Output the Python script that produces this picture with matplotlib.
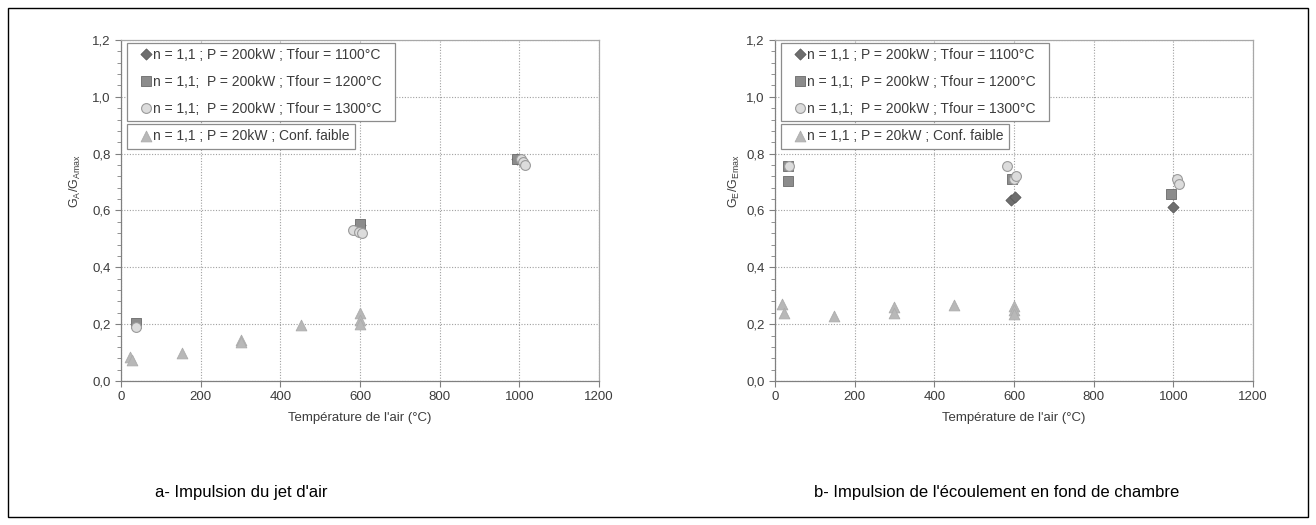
import matplotlib.pyplot as plt
from matplotlib.ticker import MultipleLocator, FuncFormatter
from matplotlib.patches import Rectangle

plt.rcParams['font.family'] = ['Liberation Sans', 'DejaVu Sans']
plt.rcParams['mathtext.default'] = 'regular'

# %%
# data (x = air temperature, y = ratio)
# a- jet d'air
a_1100_x = [600, 995]
a_1100_y = [0.55, 0.78]
a_1200_x = [37, 600, 995]
a_1200_y = [0.205, 0.553, 0.782]
a_1300_x = [39, 582, 598, 604, 1005, 1010, 1015]
a_1300_y = [0.19, 0.533, 0.525, 0.522, 0.782, 0.772, 0.76]
a_20kw_x = [22, 27, 152, 302, 302, 451, 600, 600, 600]
a_20kw_y = [0.084, 0.074, 0.097, 0.146, 0.137, 0.196, 0.238, 0.216, 0.202]

# b- fond de chambre
b_1100_x = [592, 602, 1000]
b_1100_y = [0.636, 0.646, 0.612]
b_1200_x = [32, 32, 596, 994]
b_1200_y = [0.755, 0.704, 0.71, 0.658]
b_1300_x = [34, 582, 600, 605, 1010, 1015]
b_1300_y = [0.755, 0.756, 0.71, 0.722, 0.712, 0.694]
b_20kw_x = [18, 23, 148, 298, 298, 449, 600, 600, 600]
b_20kw_y = [0.272, 0.24, 0.228, 0.26, 0.24, 0.268, 0.265, 0.25, 0.235]

labels = ['n = 1,1 ; P = 200kW ; Tfour = 1100°C  ',
          'n = 1,1;  P = 200kW ; Tfour = 1200°C  ',
          'n = 1,1;  P = 200kW ; Tfour = 1300°C  ',
          'n = 1,1 ; P = 20kW ; Conf. faible']
ylabels = [r'$G_A/G_{Amax}$', r'$G_E/G_{Emax}$']
captions = ["a- Impulsion du jet d'air",
            "b- Impulsion de l'écoulement en fond de chambre"]

panels = [(a_1100_x, a_1100_y, a_1200_x, a_1200_y, a_1300_x, a_1300_y, a_20kw_x, a_20kw_y),
          (b_1100_x, b_1100_y, b_1200_x, b_1200_y, b_1300_x, b_1300_y, b_20kw_x, b_20kw_y)]

# %%
fig = plt.figure(figsize=(13.16, 5.25), dpi=100)
txt = '#3c3c3c'
lefts = [0.0919, 0.5889]
ylab_x = [-0.079, -0.069]
cap_x = [241 / 1316, 997 / 1316]
leg_kw = dict(loc='upper left', fontsize=10, frameon=True, fancybox=False, edgecolor='#8c8c8c',
              framealpha=1, handlelength=1.93, handletextpad=-0.46, borderpad=0.4,
              labelspacing=0.91, borderaxespad=0, labelcolor=txt, scatteryoffsets=[0.5])

for i, p in enumerate(panels):
    ax = fig.add_axes([lefts[i], 0.2743, 0.3633, 0.6495])
    h1 = ax.scatter(p[0], p[1], marker='D', s=32, color='#6e6e6e', edgecolor='#5a5a5a', linewidth=0.6, zorder=3)
    h2 = ax.scatter(p[2], p[3], marker='s', s=50, color='#8c8c8c', edgecolor='#6a6a6a', linewidth=0.6, zorder=3)
    h3 = ax.scatter(p[4], p[5], marker='o', s=50, color='#dcdcdc', edgecolor='#9a9a9a', linewidth=0.8, zorder=3)
    h4 = ax.scatter(p[6], p[7], marker='^', s=60, color='#b8b8b8', edgecolor='#acacac', linewidth=0.6, zorder=3)

    ax.set_xlim(0, 1200)
    ax.set_ylim(0, 1.2)
    ax.xaxis.set_major_locator(MultipleLocator(200))
    ax.yaxis.set_major_locator(MultipleLocator(0.2))
    ax.yaxis.set_minor_locator(MultipleLocator(0.04))
    ax.yaxis.set_major_formatter(FuncFormatter(lambda v, pos: ('%.1f' % v).replace('.', ',')))
    ax.grid(True, which='major', linestyle=(0, (1, 1.5)), color='#a0a0a0', linewidth=0.8)
    ax.set_axisbelow(True)
    for s in ax.spines.values():
        s.set_color('#a8a8a8')
        s.set_linewidth(0.9)
    ax.spines['left'].set_color('#808080')
    ax.spines['bottom'].set_color('#808080')
    ax.tick_params(which='both', colors='#808080', labelcolor=txt, labelsize=9.5, direction='out')
    ax.tick_params(which='major', length=4)
    ax.tick_params(which='minor', length=3)
    ax.set_xlabel("Température de l'air (°C)", fontsize=9.5, color=txt, labelpad=6)
    ax.set_ylabel(ylabels[i], fontsize=9, color=txt)
    ax.yaxis.set_label_coords(ylab_x[i], 0.585)

    leg1 = ax.legend([h1, h2, h3], labels[:3], bbox_to_anchor=(0.012, 0.992), **leg_kw)
    leg1.get_frame().set_linewidth(0.9)
    ax.add_artist(leg1)
    leg2 = ax.legend([h4], labels[3:], bbox_to_anchor=(0.012, 0.754), **leg_kw)
    leg2.get_frame().set_linewidth(0.9)

    fig.text(cap_x[i], 1 - 492 / 525, captions[i], ha='center', va='center', fontsize=12, color='black')

# outer frame
fig.patches.append(Rectangle((8 / 1316, 8 / 525), 1300 / 1316, 509 / 525, transform=fig.transFigure,
                             fill=False, edgecolor='black', linewidth=1.0))

fig.savefig('out.png', dpi=100)
